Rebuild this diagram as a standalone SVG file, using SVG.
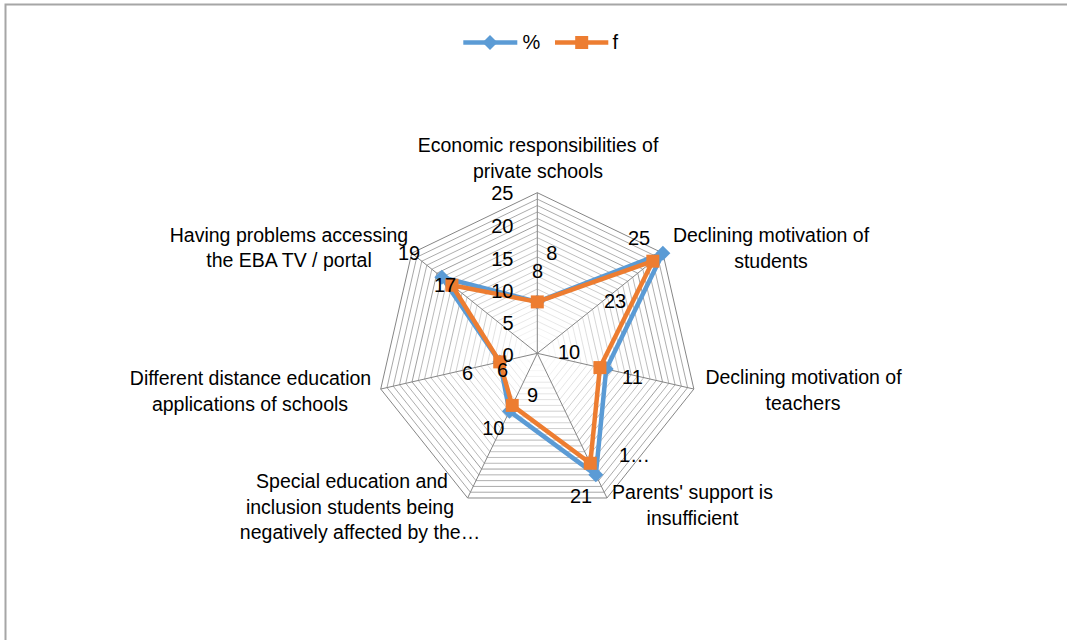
<svg xmlns="http://www.w3.org/2000/svg" xmlns:xlink="http://www.w3.org/1999/xlink" width="1067" height="640" viewBox="0 0 1067 640">
<style>
text{font-family:"Liberation Sans",Arial,sans-serif;fill:#000}
.cat{font-size:19.5px;text-anchor:middle}
.num{font-size:20px;text-anchor:middle}
.ax{font-size:20px;text-anchor:end}
.minor{fill:none;stroke:#a3a3a3;stroke-width:1;vector-effect:non-scaling-stroke}
.major{fill:none;stroke:#868686;stroke-width:1;vector-effect:non-scaling-stroke}
.spoke{stroke:#868686;stroke-width:1}
.blue{fill:none;stroke:#5B9BD5;stroke-width:4.5;stroke-linejoin:round}
.orange{fill:none;stroke:#ED7D31;stroke-width:4.5;stroke-linejoin:round}
</style>
<defs>
<polygon id="hep" points="0,-160.6 125.56,-100.13 156.57,35.74 69.68,144.7 -69.68,144.7 -156.57,35.74 -125.56,-100.13"/>
<path id="dia" d="M0,-7.5 L7.5,0 0,7.5 -7.5,0Z" fill="#5B9BD5"/>
<rect id="sq" x="-6.5" y="-6.5" width="13" height="13" fill="#ED7D31"/>
</defs>
<rect x="0" y="0" width="1067" height="640" fill="#fff"/>
<path d="M5.5,660 V4.5 H1080" fill="none" stroke="#a6a6a6" stroke-width="2"/>

<g id="grid" transform="translate(537.3,353.3)">
<use xlink:href="#hep" class="minor" transform="scale(0.04)"/>
<use xlink:href="#hep" class="minor" transform="scale(0.08)"/>
<use xlink:href="#hep" class="minor" transform="scale(0.12)"/>
<use xlink:href="#hep" class="minor" transform="scale(0.16)"/>
<use xlink:href="#hep" class="major" transform="scale(0.20)"/>
<use xlink:href="#hep" class="minor" transform="scale(0.24)"/>
<use xlink:href="#hep" class="minor" transform="scale(0.28)"/>
<use xlink:href="#hep" class="minor" transform="scale(0.32)"/>
<use xlink:href="#hep" class="minor" transform="scale(0.36)"/>
<use xlink:href="#hep" class="major" transform="scale(0.40)"/>
<use xlink:href="#hep" class="minor" transform="scale(0.44)"/>
<use xlink:href="#hep" class="minor" transform="scale(0.48)"/>
<use xlink:href="#hep" class="minor" transform="scale(0.52)"/>
<use xlink:href="#hep" class="minor" transform="scale(0.56)"/>
<use xlink:href="#hep" class="major" transform="scale(0.60)"/>
<use xlink:href="#hep" class="minor" transform="scale(0.64)"/>
<use xlink:href="#hep" class="minor" transform="scale(0.68)"/>
<use xlink:href="#hep" class="minor" transform="scale(0.72)"/>
<use xlink:href="#hep" class="minor" transform="scale(0.76)"/>
<use xlink:href="#hep" class="major" transform="scale(0.80)"/>
<use xlink:href="#hep" class="minor" transform="scale(0.84)"/>
<use xlink:href="#hep" class="minor" transform="scale(0.88)"/>
<use xlink:href="#hep" class="minor" transform="scale(0.92)"/>
<use xlink:href="#hep" class="minor" transform="scale(0.96)"/>
<use xlink:href="#hep" class="major" transform="scale(1)"/>
<line class="spoke" x1="0" y1="0" x2="0" y2="-160.6"/>
<line class="spoke" x1="0" y1="0" x2="125.56" y2="-100.13"/>
<line class="spoke" x1="0" y1="0" x2="156.57" y2="35.74"/>
<line class="spoke" x1="0" y1="0" x2="69.68" y2="144.7"/>
<line class="spoke" x1="0" y1="0" x2="-69.68" y2="144.7"/>
<line class="spoke" x1="0" y1="0" x2="-156.57" y2="35.74"/>
<line class="spoke" x1="0" y1="0" x2="-125.56" y2="-100.13"/>
</g>

<g id="series-percent">
<polygon class="blue" points="537.3,301.91 662.86,253.17 606.19,369.02 595.83,474.84 509.43,411.18 499.73,361.88 441.87,277.2"/>
<use xlink:href="#dia" x="537.3" y="301.91"/>
<use xlink:href="#dia" x="662.86" y="253.17"/>
<use xlink:href="#dia" x="606.19" y="369.02"/>
<use xlink:href="#dia" x="595.83" y="474.84"/>
<use xlink:href="#dia" x="509.43" y="411.18"/>
<use xlink:href="#dia" x="499.73" y="361.88"/>
<use xlink:href="#dia" x="441.87" y="277.2"/>
</g>
<g id="series-f">
<polygon class="orange" points="537.3,301.91 652.82,261.18 599.93,367.59 590.26,463.27 512.21,405.39 499.73,361.88 451.92,285.21"/>
<use xlink:href="#sq" x="537.3" y="301.91"/>
<use xlink:href="#sq" x="652.82" y="261.18"/>
<use xlink:href="#sq" x="599.93" y="367.59"/>
<use xlink:href="#sq" x="590.26" y="463.27"/>
<use xlink:href="#sq" x="512.21" y="405.39"/>
<use xlink:href="#sq" x="499.73" y="361.88"/>
<use xlink:href="#sq" x="451.92" y="285.21"/>
</g>

<g id="axis-labels">
<text class="ax" x="513.5" y="200">25</text>
<text class="ax" x="513.5" y="233">20</text>
<text class="ax" x="513.5" y="266">15</text>
<text class="ax" x="513.5" y="298">10</text>
<text class="ax" x="513.5" y="330">5</text>
<text class="ax" x="513.5" y="362">0</text>
</g>

<g id="data-labels">
<text class="num" x="551.7" y="260">8</text>
<text class="num" x="537.5" y="277.5">8</text>
<text class="num" x="639" y="245">25</text>
<text class="num" x="615" y="307.5">23</text>
<text class="num" x="569" y="358.5">10</text>
<text class="num" x="632.5" y="383.5">11</text>
<text class="num" x="619" y="462" style="text-anchor:start">1…</text>
<text class="num" x="581" y="502.5">21</text>
<text class="num" x="532.5" y="401.5">9</text>
<text class="num" x="493.3" y="435">10</text>
<text class="num" x="467.5" y="380">6</text>
<text class="num" x="502.5" y="377">6</text>
<text class="num" x="445" y="291.5">17</text>
<text class="num" x="409" y="260">19</text>
</g>

<g id="cat-economic">
<text class="cat" x="538" y="151.5">Economic responsibilities of</text>
<text class="cat" x="538" y="177.5">private schools</text>
</g>
<g id="cat-students">
<text class="cat" x="771" y="242">Declining motivation of</text>
<text class="cat" x="771" y="268">students</text>
</g>
<g id="cat-teachers">
<text class="cat" x="803.5" y="384">Declining motivation of</text>
<text class="cat" x="803" y="410">teachers</text>
</g>
<g id="cat-parents">
<text class="cat" x="692.5" y="498.5">Parents' support is</text>
<text class="cat" x="692.5" y="524.5">insufficient</text>
</g>
<g id="cat-special">
<text class="cat" x="352" y="488">Special education and</text>
<text class="cat" x="350" y="513.5">inclusion students being</text>
<text class="cat" x="360" y="539">negatively affected by the…</text>
</g>
<g id="cat-different">
<text class="cat" x="250.5" y="385">Different distance education</text>
<text class="cat" x="250" y="410.5">applications of schools</text>
</g>
<g id="cat-eba">
<text class="cat" x="289" y="241.5">Having problems accessing</text>
<text class="cat" x="289" y="267">the EBA TV / portal</text>
</g>

<g id="legend">
<line x1="463.3" y1="42.5" x2="517.3" y2="42.5" stroke="#5B9BD5" stroke-width="4.5"/>
<use xlink:href="#dia" x="490" y="42.5"/>
<text x="522.5" y="49" style="font-size:20px">%</text>
<line x1="555" y1="42.5" x2="608.3" y2="42.5" stroke="#ED7D31" stroke-width="4.5"/>
<use xlink:href="#sq" x="581.7" y="42.5"/>
<text x="612.5" y="49" style="font-size:20px">f</text>
</g>
</svg>
